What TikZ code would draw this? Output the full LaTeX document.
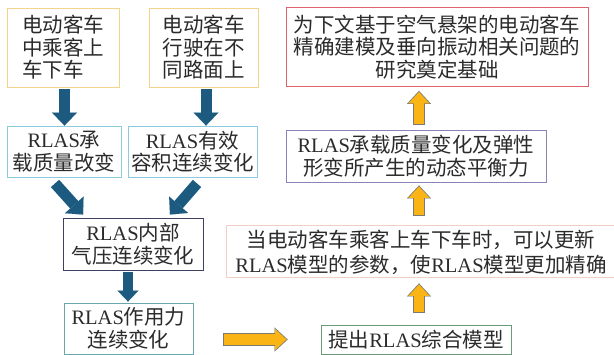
\documentclass[tikz,border=0pt]{standalone}
\usepackage{fontspec}
\setmainfont{Noto Sans CJK SC}
\newfontfamily\latf{Liberation Serif}
\usetikzlibrary{arrows.meta,calc}
\newcommand{\rl}{{\latf RLAS}}
\newcommand{\fsz}{\fontsize{20.5pt}{22.5pt}\selectfont}
\definecolor{yelb}{HTML}{F2D58A}
\definecolor{cyb}{HTML}{8CCAE0}
\definecolor{eb}{HTML}{3F3F5F}
\definecolor{fb}{HTML}{6AA6AE}
\definecolor{gb}{HTML}{6C9A78}
\definecolor{hb}{HTML}{F2CFC4}
\definecolor{ib}{HTML}{8A82B8}
\definecolor{jb}{HTML}{E0606C}
\definecolor{dblue}{HTML}{1D5A80}
\definecolor{orng}{HTML}{FBB416}
\definecolor{ogray}{HTML}{7A7A70}
\definecolor{txt}{HTML}{2B2B2B}
\begin{document}
\begin{tikzpicture}[x=1pt,y=-1pt,
  box/.style={draw, line width=0.9pt, inner sep=0pt, font=\fsz, align=center, text=txt},
  darr/.style={draw=dblue, line width=11pt, -{Triangle[width=25pt,length=13pt,line width=0.01pt]}},
  darrs/.style={draw=dblue, line width=10pt, -{Triangle[width=21pt,length=11pt,line width=0.01pt]}},
  oarr/.style={preaction={draw=ogray, line width=12.2pt, shorten >=0pt, shorten <=0pt,
      -{Triangle[width=24pt,length=13pt,line width=0.01pt]}},
    draw=orng, line width=10.6pt, shorten >=1.2pt, shorten <=0.8pt,
    -{Triangle[width=21pt,length=11.3pt,line width=0.01pt]}}
]
\useasboundingbox (0,0) rectangle (614,355);
\fill[white] (0,0) rectangle (614,355);

% left column
\node[box, draw=yelb, minimum width=112pt, minimum height=79pt, align=left] (A) at (63.5,47.5) {电动客车\\中乘客上\\车下车};
\node[box, draw=yelb, minimum width=109pt, minimum height=79pt] (B) at (203.5,47.5) {电动客车\\行驶在不\\同路面上};
\node[box, draw=cyb, minimum width=114pt, minimum height=51pt] (C) at (64,151.5) {\rl 承\\载质量改变};
\node[box, draw=cyb, minimum width=129pt, minimum height=51pt] (D) at (192.5,151.5) {\rl 有效\\容积连续变化};
\node[box, draw=eb, minimum width=140pt, minimum height=52pt] (E) at (133,244) {\rl 内部\\气压连续变化};
\node[box, draw=fb, minimum width=129pt, minimum height=51pt] (F) at (128.5,328.5) {\rl 作用力\\连续变化};

% right column
\node[box, draw=gb, minimum width=190pt, minimum height=29pt] (G) at (416,339.5) {提出\rl 综合模型};
\node[box, draw=hb, minimum width=394pt, minimum height=52pt] (H) at (423,251) {};
\node[font=\fontsize{20.5pt}{25pt}\selectfont, text=txt, align=center, inner sep=0pt] (Ht) at (421,252) {当电动客车乘客上车下车时，可以更新\\\rl 模型的参数，使\rl 模型更加精确};
\node[box, draw=ib, minimum width=260pt, minimum height=52pt] (I) at (416,156) {\rl 承载质量变化及弹性\\形变所产生的动态平衡力};
\node[box, draw=jb, minimum width=302pt, minimum height=79pt] (J) at (437,47) {为下文基于空气悬架的电动客车\\精确建模及垂向振动相关问题的\\研究奠定基础};

% dark arrows
\draw[darr] ($(A.south)+(1,2)$) -- ($(A.south |- C.north)+(1,0)$);
\draw[darr] ($(B.south)+(2.5,2)$) -- ($(B.south |- D.north)+(2.5,0)$);
\draw[darr] ($(C.south)+(-9,6)$) -- ($(E.north)+(-50,-3)$);
\draw[darr] ($(D.south)+(4.5,6)$) -- ($(E.north)+(37,-3)$);
\draw[darrs] ($(E.south)+(-5,2)$) -- ($(F.north)+(-0.5,-1)$);

% orange arrows
\draw[oarr] ($(F.east |- G.west)+(30,0)$) -- ($(G.west)+(-33,0)$);
\draw[oarr] ($(G.north)+(3,-12)$) -- ($(G.north |- H.south)+(3,6)$);
\draw[oarr] ($(G.north |- H.north)+(3,-9)$) -- ($(G.north |- I.south)+(3,3)$);
\draw[oarr] ($(I.north)+(3,-5)$) -- ($(I.north |- J.south)+(3,4)$);
\end{tikzpicture}
\end{document}
